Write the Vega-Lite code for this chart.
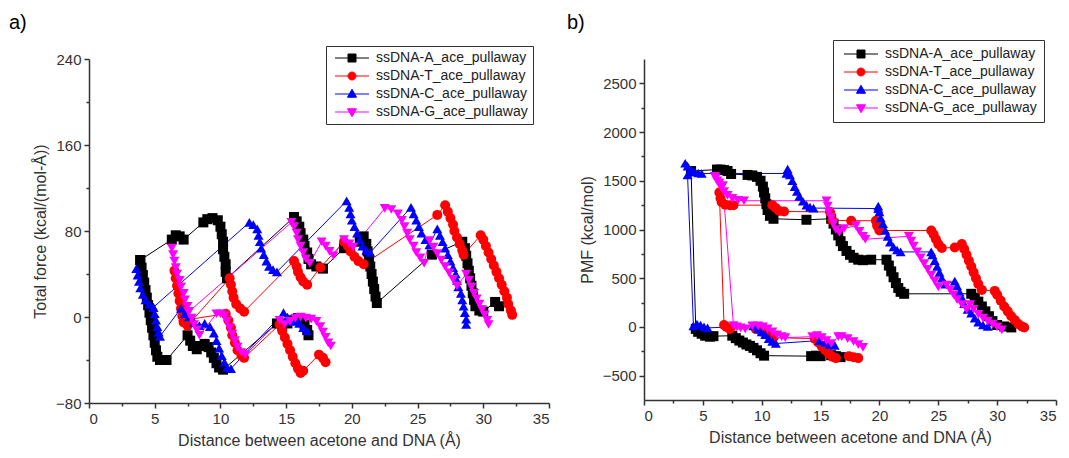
{
"$schema": "https://vega.github.io/schema/vega-lite/v6.json",
"padding": {"left": 9, "top": 12, "right": 2, "bottom": 2},
"background": "white",
"config": {
 "font": "Liberation Sans",
 "view": {"stroke": null},
 "axis": {"grid": false, "domainColor": "#333333", "domainWidth": 1.5, "tickColor": "#333333", "tickWidth": 1.5, "tickSize": 5, "labelFont": "Liberation Sans", "labelFontSize": 15, "labelColor": "#333333", "labelPadding": 3, "titleFont": "Liberation Sans", "titleFontSize": 16, "titleFontWeight": "normal", "titleColor": "#333333"},
 "legend": {"labelFont": "Liberation Sans", "labelFontSize": 14, "labelColor": "#222222", "strokeColor": "#333333", "fillColor": "white", "padding": 5, "symbolSize": 100, "symbolOffset": 14, "labelOffset": 17, "rowPadding": 4, "labelLimit": 300},
 "title": {"fontSize": 20, "fontWeight": "normal", "anchor": "start", "frame": "group", "color": "#000000", "font": "Liberation Sans"}
},
"datasets": {
 "force": [
  {"s":"A","r":1,"x":3.9,"y":53},{"s":"A","r":1,"x":6.3,"y":72},{"s":"A","r":1,"x":6.6,"y":76},{"s":"A","r":1,"x":6.9,"y":75},{"s":"A","r":1,"x":7.2,"y":72},{"s":"A","r":1,"x":8.7,"y":88},{"s":"A","r":1,"x":9.0,"y":91},{"s":"A","r":1,"x":9.4,"y":92},{"s":"A","r":1,"x":9.8,"y":90},{"s":"A","r":1,"x":10.0,"y":84},{"s":"A","r":1,"x":10.1,"y":77},{"s":"A","r":1,"x":10.2,"y":70},{"s":"A","r":1,"x":10.2,"y":63},{"s":"A","r":1,"x":10.3,"y":56},{"s":"A","r":1,"x":10.4,"y":49},{"s":"A","r":1,"x":10.4,"y":42},{"s":"A","r":1,"x":10.5,"y":36},{"s":"A","r":1,"x":15.6,"y":93},{"s":"A","r":1,"x":15.8,"y":89},{"s":"A","r":1,"x":16.0,"y":84},{"s":"A","r":1,"x":16.1,"y":78},{"s":"A","r":1,"x":16.3,"y":72},{"s":"A","r":1,"x":16.4,"y":66},{"s":"A","r":1,"x":16.6,"y":60},{"s":"A","r":1,"x":16.7,"y":54},{"s":"A","r":1,"x":16.9,"y":49},{"s":"A","r":1,"x":17.3,"y":47},{"s":"A","r":1,"x":17.8,"y":45},{"s":"A","r":1,"x":19.4,"y":64},{"s":"A","r":1,"x":20.6,"y":70},{"s":"A","r":1,"x":20.9,"y":75},{"s":"A","r":1,"x":21.1,"y":68},{"s":"A","r":1,"x":21.2,"y":61},{"s":"A","r":1,"x":21.3,"y":54},{"s":"A","r":1,"x":21.4,"y":47},{"s":"A","r":1,"x":21.5,"y":40},{"s":"A","r":1,"x":21.6,"y":33},{"s":"A","r":1,"x":21.7,"y":26},{"s":"A","r":1,"x":21.8,"y":19},{"s":"A","r":1,"x":21.9,"y":13},{"s":"A","r":1,"x":26.1,"y":58},{"s":"A","r":1,"x":28.4,"y":70},{"s":"A","r":1,"x":28.6,"y":64},{"s":"A","r":1,"x":28.7,"y":57},{"s":"A","r":1,"x":28.8,"y":50},{"s":"A","r":1,"x":28.9,"y":43},{"s":"A","r":1,"x":29.0,"y":36},{"s":"A","r":1,"x":29.1,"y":29},{"s":"A","r":1,"x":29.2,"y":22},{"s":"A","r":1,"x":29.3,"y":16},{"s":"A","r":1,"x":29.4,"y":10},{"s":"A","r":1,"x":29.7,"y":6},{"s":"A","r":1,"x":30.0,"y":5},{"s":"A","r":1,"x":30.9,"y":14},{"s":"A","r":1,"x":31.2,"y":10},
  {"s":"A","r":2,"x":3.9,"y":53},{"s":"A","r":2,"x":4.0,"y":46},{"s":"A","r":2,"x":4.1,"y":39},{"s":"A","r":2,"x":4.2,"y":32},{"s":"A","r":2,"x":4.3,"y":25},{"s":"A","r":2,"x":4.4,"y":18},{"s":"A","r":2,"x":4.5,"y":11},{"s":"A","r":2,"x":4.6,"y":4},{"s":"A","r":2,"x":4.7,"y":-3},{"s":"A","r":2,"x":4.8,"y":-10},{"s":"A","r":2,"x":4.9,"y":-17},{"s":"A","r":2,"x":5.0,"y":-24},{"s":"A","r":2,"x":5.1,"y":-31},{"s":"A","r":2,"x":5.2,"y":-37},{"s":"A","r":2,"x":5.4,"y":-40},{"s":"A","r":2,"x":5.7,"y":-40},{"s":"A","r":2,"x":5.9,"y":-40},{"s":"A","r":2,"x":7.5,"y":-17},{"s":"A","r":2,"x":7.7,"y":-22},{"s":"A","r":2,"x":7.9,"y":-27},{"s":"A","r":2,"x":8.2,"y":-30},{"s":"A","r":2,"x":8.5,"y":-27},{"s":"A","r":2,"x":8.8,"y":-25},{"s":"A","r":2,"x":9.1,"y":-28},{"s":"A","r":2,"x":9.3,"y":-33},{"s":"A","r":2,"x":9.5,"y":-38},{"s":"A","r":2,"x":9.7,"y":-43},{"s":"A","r":2,"x":9.9,"y":-47},{"s":"A","r":2,"x":10.2,"y":-49},{"s":"A","r":2,"x":14.3,"y":-6},{"s":"A","r":2,"x":14.7,"y":-8},{"s":"A","r":2,"x":15.1,"y":-6},{"s":"A","r":2,"x":15.5,"y":-3},{"s":"A","r":2,"x":15.9,"y":-1},{"s":"A","r":2,"x":16.2,"y":-2},{"s":"A","r":2,"x":16.4,"y":-7},{"s":"A","r":2,"x":16.6,"y":-12},{"s":"A","r":2,"x":16.7,"y":-17},
  {"s":"T","r":1,"x":6.5,"y":43},{"s":"T","r":1,"x":6.6,"y":36},{"s":"T","r":1,"x":6.7,"y":29},{"s":"T","r":1,"x":6.8,"y":22},{"s":"T","r":1,"x":6.9,"y":15},{"s":"T","r":1,"x":7.0,"y":8},{"s":"T","r":1,"x":7.1,"y":1},{"s":"T","r":1,"x":7.2,"y":-5},{"s":"T","r":1,"x":7.5,"y":-8},{"s":"T","r":1,"x":10.7,"y":36},{"s":"T","r":1,"x":10.8,"y":30},{"s":"T","r":1,"x":10.9,"y":24},{"s":"T","r":1,"x":11.0,"y":18},{"s":"T","r":1,"x":11.2,"y":12},{"s":"T","r":1,"x":11.5,"y":8},{"s":"T","r":1,"x":11.8,"y":5},{"s":"T","r":1,"x":15.6,"y":52},{"s":"T","r":1,"x":15.8,"y":47},{"s":"T","r":1,"x":15.9,"y":42},{"s":"T","r":1,"x":16.1,"y":37},{"s":"T","r":1,"x":16.3,"y":33},{"s":"T","r":1,"x":16.6,"y":30},{"s":"T","r":1,"x":17.6,"y":46},{"s":"T","r":1,"x":19.4,"y":70},{"s":"T","r":1,"x":19.7,"y":66},{"s":"T","r":1,"x":19.9,"y":61},{"s":"T","r":1,"x":20.2,"y":56},{"s":"T","r":1,"x":20.5,"y":52},{"s":"T","r":1,"x":20.9,"y":49},{"s":"T","r":1,"x":26.5,"y":95},{"s":"T","r":1,"x":27.1,"y":104},{"s":"T","r":1,"x":27.3,"y":98},{"s":"T","r":1,"x":27.5,"y":92},{"s":"T","r":1,"x":27.7,"y":86},{"s":"T","r":1,"x":27.8,"y":80},{"s":"T","r":1,"x":28.0,"y":74},{"s":"T","r":1,"x":28.2,"y":68},{"s":"T","r":1,"x":28.4,"y":62},{"s":"T","r":1,"x":28.5,"y":58},{"s":"T","r":1,"x":29.8,"y":76},{"s":"T","r":1,"x":30.0,"y":72},{"s":"T","r":1,"x":30.2,"y":66},{"s":"T","r":1,"x":30.4,"y":60},{"s":"T","r":1,"x":30.6,"y":54},{"s":"T","r":1,"x":30.8,"y":48},{"s":"T","r":1,"x":31.0,"y":42},{"s":"T","r":1,"x":31.2,"y":36},{"s":"T","r":1,"x":31.4,"y":30},{"s":"T","r":1,"x":31.6,"y":24},{"s":"T","r":1,"x":31.8,"y":18},{"s":"T","r":1,"x":31.9,"y":12},{"s":"T","r":1,"x":32.1,"y":6},{"s":"T","r":1,"x":32.2,"y":2},
  {"s":"T","r":2,"x":7.2,"y":-3},{"s":"T","r":2,"x":10.4,"y":3},{"s":"T","r":2,"x":10.6,"y":-3},{"s":"T","r":2,"x":10.8,"y":-10},{"s":"T","r":2,"x":10.9,"y":-17},{"s":"T","r":2,"x":11.1,"y":-24},{"s":"T","r":2,"x":11.3,"y":-31},{"s":"T","r":2,"x":11.6,"y":-36},{"s":"T","r":2,"x":11.8,"y":-38},{"s":"T","r":2,"x":14.5,"y":-7},{"s":"T","r":2,"x":14.7,"y":-13},{"s":"T","r":2,"x":14.9,"y":-19},{"s":"T","r":2,"x":15.1,"y":-25},{"s":"T","r":2,"x":15.3,"y":-31},{"s":"T","r":2,"x":15.5,"y":-37},{"s":"T","r":2,"x":15.7,"y":-43},{"s":"T","r":2,"x":15.9,"y":-48},{"s":"T","r":2,"x":16.1,"y":-52},{"s":"T","r":2,"x":16.3,"y":-50},{"s":"T","r":2,"x":17.5,"y":-35},{"s":"T","r":2,"x":17.8,"y":-38},{"s":"T","r":2,"x":18.0,"y":-42},
  {"s":"C","r":1,"x":3.6,"y":45},{"s":"C","r":1,"x":3.7,"y":39},{"s":"C","r":1,"x":3.8,"y":33},{"s":"C","r":1,"x":3.9,"y":27},{"s":"C","r":1,"x":4.1,"y":21},{"s":"C","r":1,"x":4.3,"y":16},{"s":"C","r":1,"x":4.6,"y":12},{"s":"C","r":1,"x":4.9,"y":9},{"s":"C","r":1,"x":12.2,"y":88},{"s":"C","r":1,"x":12.5,"y":86},{"s":"C","r":1,"x":12.8,"y":82},{"s":"C","r":1,"x":12.9,"y":76},{"s":"C","r":1,"x":13.0,"y":70},{"s":"C","r":1,"x":13.1,"y":64},{"s":"C","r":1,"x":13.3,"y":58},{"s":"C","r":1,"x":13.5,"y":52},{"s":"C","r":1,"x":13.7,"y":47},{"s":"C","r":1,"x":14.0,"y":44},{"s":"C","r":1,"x":14.3,"y":42},{"s":"C","r":1,"x":19.6,"y":108},{"s":"C","r":1,"x":19.8,"y":102},{"s":"C","r":1,"x":19.9,"y":96},{"s":"C","r":1,"x":20.0,"y":90},{"s":"C","r":1,"x":20.2,"y":84},{"s":"C","r":1,"x":20.4,"y":78},{"s":"C","r":1,"x":20.6,"y":72},{"s":"C","r":1,"x":20.8,"y":66},{"s":"C","r":1,"x":21.1,"y":62},{"s":"C","r":1,"x":21.4,"y":60},{"s":"C","r":1,"x":24.5,"y":102},{"s":"C","r":1,"x":24.7,"y":96},{"s":"C","r":1,"x":24.9,"y":90},{"s":"C","r":1,"x":25.1,"y":84},{"s":"C","r":1,"x":25.3,"y":78},{"s":"C","r":1,"x":25.6,"y":72},{"s":"C","r":1,"x":25.9,"y":67},{"s":"C","r":1,"x":26.5,"y":82},{"s":"C","r":1,"x":26.7,"y":76},{"s":"C","r":1,"x":26.9,"y":70},{"s":"C","r":1,"x":27.1,"y":64},{"s":"C","r":1,"x":27.3,"y":58},{"s":"C","r":1,"x":27.5,"y":52},{"s":"C","r":1,"x":27.7,"y":46},{"s":"C","r":1,"x":27.9,"y":40},{"s":"C","r":1,"x":28.0,"y":34},{"s":"C","r":1,"x":28.1,"y":28},{"s":"C","r":1,"x":28.3,"y":22},{"s":"C","r":1,"x":28.4,"y":16},{"s":"C","r":1,"x":28.5,"y":10},{"s":"C","r":1,"x":28.6,"y":4},{"s":"C","r":1,"x":28.7,"y":-2},{"s":"C","r":1,"x":28.7,"y":-7},
  {"s":"C","r":2,"x":4.9,"y":9},{"s":"C","r":2,"x":5.0,"y":3},{"s":"C","r":2,"x":5.1,"y":-3},{"s":"C","r":2,"x":5.2,"y":-9},{"s":"C","r":2,"x":5.3,"y":-14},{"s":"C","r":2,"x":5.4,"y":-18},{"s":"C","r":2,"x":7.0,"y":8},{"s":"C","r":2,"x":7.3,"y":3},{"s":"C","r":2,"x":7.6,"y":0},{"s":"C","r":2,"x":8.0,"y":-5},{"s":"C","r":2,"x":8.4,"y":-8},{"s":"C","r":2,"x":8.8,"y":-6},{"s":"C","r":2,"x":9.2,"y":-9},{"s":"C","r":2,"x":9.5,"y":-15},{"s":"C","r":2,"x":9.7,"y":-22},{"s":"C","r":2,"x":9.9,"y":-29},{"s":"C","r":2,"x":10.1,"y":-36},{"s":"C","r":2,"x":10.3,"y":-42},{"s":"C","r":2,"x":10.5,"y":-47},{"s":"C","r":2,"x":10.8,"y":-48},{"s":"C","r":2,"x":14.8,"y":4},{"s":"C","r":2,"x":15.1,"y":0},{"s":"C","r":2,"x":15.4,"y":-4},{"s":"C","r":2,"x":15.7,"y":-2},{"s":"C","r":2,"x":16.0,"y":-6},{"s":"C","r":2,"x":16.3,"y":-10},{"s":"C","r":2,"x":16.6,"y":-13},
  {"s":"G","r":1,"x":6.3,"y":64},{"s":"G","r":1,"x":6.4,"y":58},{"s":"G","r":1,"x":6.5,"y":52},{"s":"G","r":1,"x":6.6,"y":46},{"s":"G","r":1,"x":6.7,"y":40},{"s":"G","r":1,"x":6.9,"y":34},{"s":"G","r":1,"x":7.0,"y":28},{"s":"G","r":1,"x":7.2,"y":22},{"s":"G","r":1,"x":7.3,"y":16},{"s":"G","r":1,"x":7.5,"y":10},{"s":"G","r":1,"x":7.6,"y":5},{"s":"G","r":1,"x":15.4,"y":88},{"s":"G","r":1,"x":15.6,"y":84},{"s":"G","r":1,"x":15.8,"y":78},{"s":"G","r":1,"x":15.9,"y":72},{"s":"G","r":1,"x":16.1,"y":66},{"s":"G","r":1,"x":16.3,"y":60},{"s":"G","r":1,"x":16.5,"y":54},{"s":"G","r":1,"x":16.8,"y":50},{"s":"G","r":1,"x":17.7,"y":70},{"s":"G","r":1,"x":18.0,"y":66},{"s":"G","r":1,"x":18.3,"y":61},{"s":"G","r":1,"x":18.6,"y":57},{"s":"G","r":1,"x":19.4,"y":72},{"s":"G","r":1,"x":19.8,"y":68},{"s":"G","r":1,"x":20.1,"y":65},{"s":"G","r":1,"x":22.5,"y":101},{"s":"G","r":1,"x":23.0,"y":100},{"s":"G","r":1,"x":23.5,"y":96},{"s":"G","r":1,"x":23.8,"y":90},{"s":"G","r":1,"x":24.0,"y":84},{"s":"G","r":1,"x":24.2,"y":78},{"s":"G","r":1,"x":24.4,"y":72},{"s":"G","r":1,"x":24.7,"y":66},{"s":"G","r":1,"x":24.9,"y":60},{"s":"G","r":1,"x":25.2,"y":55},{"s":"G","r":1,"x":25.5,"y":50},{"s":"G","r":1,"x":25.9,"y":71},{"s":"G","r":1,"x":26.2,"y":65},{"s":"G","r":1,"x":26.5,"y":59},{"s":"G","r":1,"x":26.8,"y":53},{"s":"G","r":1,"x":27.1,"y":47},{"s":"G","r":1,"x":27.4,"y":41},{"s":"G","r":1,"x":27.7,"y":35},{"s":"G","r":1,"x":28.0,"y":29},{"s":"G","r":1,"x":28.7,"y":40},{"s":"G","r":1,"x":28.9,"y":34},{"s":"G","r":1,"x":29.1,"y":28},{"s":"G","r":1,"x":29.3,"y":22},{"s":"G","r":1,"x":29.5,"y":17},{"s":"G","r":1,"x":29.7,"y":12},{"s":"G","r":1,"x":29.9,"y":7},{"s":"G","r":1,"x":30.1,"y":2},{"s":"G","r":1,"x":30.3,"y":-3},{"s":"G","r":1,"x":30.4,"y":-7},
  {"s":"G","r":2,"x":7.6,"y":5},{"s":"G","r":2,"x":7.8,"y":-1},{"s":"G","r":2,"x":8.0,"y":-7},{"s":"G","r":2,"x":8.2,"y":-12},{"s":"G","r":2,"x":8.4,"y":-17},{"s":"G","r":2,"x":9.7,"y":3},{"s":"G","r":2,"x":10.0,"y":3},{"s":"G","r":2,"x":10.3,"y":1},{"s":"G","r":2,"x":10.5,"y":-4},{"s":"G","r":2,"x":10.7,"y":-10},{"s":"G","r":2,"x":10.9,"y":-16},{"s":"G","r":2,"x":11.1,"y":-22},{"s":"G","r":2,"x":11.3,"y":-28},{"s":"G","r":2,"x":11.6,"y":-33},{"s":"G","r":2,"x":11.9,"y":-35},{"s":"G","r":2,"x":14.5,"y":-3},{"s":"G","r":2,"x":14.9,"y":-7},{"s":"G","r":2,"x":15.3,"y":-4},{"s":"G","r":2,"x":15.7,"y":-1},{"s":"G","r":2,"x":16.1,"y":0},{"s":"G","r":2,"x":16.5,"y":-1},{"s":"G","r":2,"x":16.9,"y":-2},{"s":"G","r":2,"x":17.3,"y":-4},{"s":"G","r":2,"x":17.6,"y":-9},{"s":"G","r":2,"x":17.8,"y":-14},{"s":"G","r":2,"x":18.0,"y":-19},{"s":"G","r":2,"x":18.2,"y":-24},{"s":"G","r":2,"x":18.4,"y":-27}
 ],
 "pmf": [
  {"s":"A","r":1,"x":16.7,"y":-310},{"s":"A","r":1,"x":16.3,"y":-300},{"s":"A","r":1,"x":15.9,"y":-290},{"s":"A","r":1,"x":15.0,"y":-300},{"s":"A","r":1,"x":14.6,"y":-295},{"s":"A","r":1,"x":14.2,"y":-300},{"s":"A","r":1,"x":10.2,"y":-295},{"s":"A","r":1,"x":9.9,"y":-270},{"s":"A","r":1,"x":9.6,"y":-240},{"s":"A","r":1,"x":9.3,"y":-215},{"s":"A","r":1,"x":9.0,"y":-195},{"s":"A","r":1,"x":8.7,"y":-180},{"s":"A","r":1,"x":8.4,"y":-160},{"s":"A","r":1,"x":8.1,"y":-140},{"s":"A","r":1,"x":7.8,"y":-115},{"s":"A","r":1,"x":7.5,"y":-90},{"s":"A","r":1,"x":5.9,"y":-95},{"s":"A","r":1,"x":5.6,"y":-100},{"s":"A","r":1,"x":5.2,"y":-90},{"s":"A","r":1,"x":4.9,"y":-70},{"s":"A","r":1,"x":4.6,"y":-50},{"s":"A","r":1,"x":4.4,"y":-20},{"s":"A","r":1,"x":4.0,"y":1600},{"s":"A","r":1,"x":6.2,"y":1615},{"s":"A","r":1,"x":6.5,"y":1615},{"s":"A","r":1,"x":6.8,"y":1610},{"s":"A","r":1,"x":7.1,"y":1600},{"s":"A","r":1,"x":7.4,"y":1570},{"s":"A","r":1,"x":8.8,"y":1560},{"s":"A","r":1,"x":9.2,"y":1555},{"s":"A","r":1,"x":9.6,"y":1540},{"s":"A","r":1,"x":9.9,"y":1500},{"s":"A","r":1,"x":10.1,"y":1440},{"s":"A","r":1,"x":10.2,"y":1380},{"s":"A","r":1,"x":10.3,"y":1320},{"s":"A","r":1,"x":10.4,"y":1260},{"s":"A","r":1,"x":10.5,"y":1200},{"s":"A","r":1,"x":10.7,"y":1140},{"s":"A","r":1,"x":11.0,"y":1110},{"s":"A","r":1,"x":13.8,"y":1100},{"s":"A","r":1,"x":15.9,"y":1110},{"s":"A","r":1,"x":16.1,"y":1060},{"s":"A","r":1,"x":16.3,"y":1000},{"s":"A","r":1,"x":16.5,"y":940},{"s":"A","r":1,"x":16.7,"y":880},{"s":"A","r":1,"x":16.9,"y":830},{"s":"A","r":1,"x":17.2,"y":780},{"s":"A","r":1,"x":17.5,"y":740},{"s":"A","r":1,"x":17.8,"y":710},{"s":"A","r":1,"x":18.2,"y":690},{"s":"A","r":1,"x":18.6,"y":685},{"s":"A","r":1,"x":19.3,"y":690},{"s":"A","r":1,"x":20.6,"y":690},{"s":"A","r":1,"x":20.8,"y":630},{"s":"A","r":1,"x":21.0,"y":570},{"s":"A","r":1,"x":21.2,"y":510},{"s":"A","r":1,"x":21.4,"y":450},{"s":"A","r":1,"x":21.6,"y":400},{"s":"A","r":1,"x":21.8,"y":360},{"s":"A","r":1,"x":22.1,"y":340},{"s":"A","r":1,"x":27.8,"y":340},{"s":"A","r":1,"x":28.1,"y":300},{"s":"A","r":1,"x":28.4,"y":260},{"s":"A","r":1,"x":28.7,"y":210},{"s":"A","r":1,"x":29.0,"y":160},{"s":"A","r":1,"x":29.3,"y":110},{"s":"A","r":1,"x":29.6,"y":60},{"s":"A","r":1,"x":30.0,"y":20},{"s":"A","r":1,"x":30.6,"y":5},{"s":"A","r":1,"x":31.2,"y":-5},
  {"s":"T","r":1,"x":18.2,"y":-320},{"s":"T","r":1,"x":17.8,"y":-310},{"s":"T","r":1,"x":17.4,"y":-300},{"s":"T","r":1,"x":16.3,"y":-320},{"s":"T","r":1,"x":16.0,"y":-305},{"s":"T","r":1,"x":15.7,"y":-275},{"s":"T","r":1,"x":15.4,"y":-240},{"s":"T","r":1,"x":15.1,"y":-200},{"s":"T","r":1,"x":14.8,"y":-160},{"s":"T","r":1,"x":14.5,"y":-120},{"s":"T","r":1,"x":11.0,"y":-110},{"s":"T","r":1,"x":10.5,"y":-80},{"s":"T","r":1,"x":10.0,"y":-50},{"s":"T","r":1,"x":9.5,"y":-20},{"s":"T","r":1,"x":7.3,"y":-20},{"s":"T","r":1,"x":7.0,"y":0},{"s":"T","r":1,"x":6.8,"y":20},{"s":"T","r":1,"x":6.4,"y":1380},{"s":"T","r":1,"x":6.5,"y":1320},{"s":"T","r":1,"x":6.6,"y":1280},{"s":"T","r":1,"x":6.9,"y":1255},{"s":"T","r":1,"x":7.3,"y":1250},{"s":"T","r":1,"x":7.6,"y":1250},{"s":"T","r":1,"x":10.9,"y":1250},{"s":"T","r":1,"x":11.2,"y":1220},{"s":"T","r":1,"x":11.5,"y":1190},{"s":"T","r":1,"x":11.9,"y":1185},{"s":"T","r":1,"x":15.8,"y":1180},{"s":"T","r":1,"x":16.0,"y":1095},{"s":"T","r":1,"x":17.6,"y":1090},{"s":"T","r":1,"x":19.7,"y":1090},{"s":"T","r":1,"x":19.8,"y":1040},{"s":"T","r":1,"x":20.0,"y":990},{"s":"T","r":1,"x":24.4,"y":990},{"s":"T","r":1,"x":24.6,"y":950},{"s":"T","r":1,"x":24.8,"y":900},{"s":"T","r":1,"x":25.0,"y":850},{"s":"T","r":1,"x":25.3,"y":810},{"s":"T","r":1,"x":26.4,"y":815},{"s":"T","r":1,"x":27.0,"y":850},{"s":"T","r":1,"x":27.2,"y":800},{"s":"T","r":1,"x":27.4,"y":740},{"s":"T","r":1,"x":27.6,"y":680},{"s":"T","r":1,"x":27.8,"y":620},{"s":"T","r":1,"x":28.0,"y":560},{"s":"T","r":1,"x":28.2,"y":500},{"s":"T","r":1,"x":28.4,"y":440},{"s":"T","r":1,"x":28.7,"y":380},{"s":"T","r":1,"x":29.8,"y":370},{"s":"T","r":1,"x":30.0,"y":330},{"s":"T","r":1,"x":30.3,"y":270},{"s":"T","r":1,"x":30.6,"y":210},{"s":"T","r":1,"x":30.9,"y":160},{"s":"T","r":1,"x":31.2,"y":110},{"s":"T","r":1,"x":31.5,"y":70},{"s":"T","r":1,"x":31.8,"y":30},{"s":"T","r":1,"x":32.1,"y":5},{"s":"T","r":1,"x":32.3,"y":-5},
  {"s":"C","r":1,"x":16.2,"y":-190},{"s":"C","r":1,"x":15.8,"y":-180},{"s":"C","r":1,"x":15.4,"y":-160},{"s":"C","r":1,"x":14.9,"y":-140},{"s":"C","r":1,"x":11.2,"y":-170},{"s":"C","r":1,"x":10.9,"y":-150},{"s":"C","r":1,"x":10.6,"y":-120},{"s":"C","r":1,"x":10.3,"y":-80},{"s":"C","r":1,"x":10.0,"y":-50},{"s":"C","r":1,"x":9.7,"y":-20},{"s":"C","r":1,"x":9.3,"y":10},{"s":"C","r":1,"x":5.4,"y":-10},{"s":"C","r":1,"x":5.1,"y":0},{"s":"C","r":1,"x":4.8,"y":20},{"s":"C","r":1,"x":4.5,"y":30},{"s":"C","r":1,"x":4.2,"y":10},{"s":"C","r":1,"x":3.7,"y":1560},{"s":"C","r":1,"x":3.5,"y":1680},{"s":"C","r":1,"x":3.7,"y":1650},{"s":"C","r":1,"x":4.0,"y":1610},{"s":"C","r":1,"x":4.3,"y":1590},{"s":"C","r":1,"x":4.6,"y":1580},{"s":"C","r":1,"x":4.9,"y":1575},{"s":"C","r":1,"x":12.1,"y":1575},{"s":"C","r":1,"x":12.2,"y":1620},{"s":"C","r":1,"x":12.4,"y":1560},{"s":"C","r":1,"x":12.6,"y":1500},{"s":"C","r":1,"x":12.8,"y":1440},{"s":"C","r":1,"x":13.0,"y":1390},{"s":"C","r":1,"x":13.2,"y":1340},{"s":"C","r":1,"x":13.5,"y":1290},{"s":"C","r":1,"x":13.8,"y":1250},{"s":"C","r":1,"x":14.1,"y":1230},{"s":"C","r":1,"x":14.4,"y":1220},{"s":"C","r":1,"x":19.9,"y":1215},{"s":"C","r":1,"x":19.9,"y":1240},{"s":"C","r":1,"x":20.0,"y":1180},{"s":"C","r":1,"x":20.1,"y":1120},{"s":"C","r":1,"x":20.3,"y":1060},{"s":"C","r":1,"x":20.5,"y":990},{"s":"C","r":1,"x":20.7,"y":930},{"s":"C","r":1,"x":20.9,"y":870},{"s":"C","r":1,"x":21.2,"y":820},{"s":"C","r":1,"x":21.5,"y":790},{"s":"C","r":1,"x":21.8,"y":770},{"s":"C","r":1,"x":24.4,"y":770},{"s":"C","r":1,"x":24.5,"y":740},{"s":"C","r":1,"x":24.7,"y":680},{"s":"C","r":1,"x":24.9,"y":620},{"s":"C","r":1,"x":25.1,"y":560},{"s":"C","r":1,"x":25.3,"y":500},{"s":"C","r":1,"x":25.6,"y":440},{"s":"C","r":1,"x":26.4,"y":470},{"s":"C","r":1,"x":26.6,"y":420},{"s":"C","r":1,"x":26.8,"y":360},{"s":"C","r":1,"x":27.0,"y":300},{"s":"C","r":1,"x":27.2,"y":240},{"s":"C","r":1,"x":27.5,"y":180},{"s":"C","r":1,"x":27.8,"y":140},{"s":"C","r":1,"x":28.1,"y":90},{"s":"C","r":1,"x":28.4,"y":50},{"s":"C","r":1,"x":28.8,"y":20},{"s":"C","r":1,"x":29.2,"y":5},
  {"s":"G","r":1,"x":18.6,"y":-210},{"s":"G","r":1,"x":18.2,"y":-180},{"s":"G","r":1,"x":17.8,"y":-150},{"s":"G","r":1,"x":17.3,"y":-120},{"s":"G","r":1,"x":16.8,"y":-100},{"s":"G","r":1,"x":16.5,"y":-100},{"s":"G","r":1,"x":15.9,"y":-170},{"s":"G","r":1,"x":15.5,"y":-140},{"s":"G","r":1,"x":15.1,"y":-110},{"s":"G","r":1,"x":14.7,"y":-90},{"s":"G","r":1,"x":14.3,"y":-100},{"s":"G","r":1,"x":12.0,"y":-110},{"s":"G","r":1,"x":11.7,"y":-100},{"s":"G","r":1,"x":11.3,"y":-80},{"s":"G","r":1,"x":10.9,"y":-50},{"s":"G","r":1,"x":10.5,"y":-20},{"s":"G","r":1,"x":10.1,"y":0},{"s":"G","r":1,"x":9.7,"y":10},{"s":"G","r":1,"x":9.2,"y":10},{"s":"G","r":1,"x":8.6,"y":-20},{"s":"G","r":1,"x":8.2,"y":-10},{"s":"G","r":1,"x":7.9,"y":0},{"s":"G","r":1,"x":7.6,"y":15},{"s":"G","r":1,"x":6.7,"y":1450},{"s":"G","r":1,"x":6.4,"y":1480},{"s":"G","r":1,"x":6.1,"y":1530},{"s":"G","r":1,"x":6.0,"y":1545},{"s":"G","r":1,"x":6.2,"y":1500},{"s":"G","r":1,"x":6.5,"y":1440},{"s":"G","r":1,"x":6.8,"y":1390},{"s":"G","r":1,"x":7.1,"y":1350},{"s":"G","r":1,"x":7.5,"y":1320},{"s":"G","r":1,"x":8.0,"y":1300},{"s":"G","r":1,"x":8.5,"y":1295},{"s":"G","r":1,"x":15.5,"y":1295},{"s":"G","r":1,"x":15.6,"y":1240},{"s":"G","r":1,"x":15.7,"y":1180},{"s":"G","r":1,"x":15.9,"y":1120},{"s":"G","r":1,"x":16.1,"y":1060},{"s":"G","r":1,"x":16.3,"y":1000},{"s":"G","r":1,"x":16.6,"y":970},{"s":"G","r":1,"x":17.0,"y":1010},{"s":"G","r":1,"x":18.0,"y":1040},{"s":"G","r":1,"x":18.3,"y":980},{"s":"G","r":1,"x":18.6,"y":930},{"s":"G","r":1,"x":18.8,"y":900},{"s":"G","r":1,"x":22.5,"y":930},{"s":"G","r":1,"x":22.7,"y":880},{"s":"G","r":1,"x":22.9,"y":830},{"s":"G","r":1,"x":23.2,"y":770},{"s":"G","r":1,"x":23.5,"y":710},{"s":"G","r":1,"x":23.8,"y":650},{"s":"G","r":1,"x":24.1,"y":590},{"s":"G","r":1,"x":24.4,"y":530},{"s":"G","r":1,"x":24.7,"y":470},{"s":"G","r":1,"x":25.0,"y":410},{"s":"G","r":1,"x":25.7,"y":430},{"s":"G","r":1,"x":26.0,"y":380},{"s":"G","r":1,"x":26.3,"y":330},{"s":"G","r":1,"x":26.6,"y":280},{"s":"G","r":1,"x":27.0,"y":230},{"s":"G","r":1,"x":27.4,"y":180},{"s":"G","r":1,"x":27.7,"y":230},{"s":"G","r":1,"x":28.0,"y":180},{"s":"G","r":1,"x":28.4,"y":130},{"s":"G","r":1,"x":28.8,"y":90},{"s":"G","r":1,"x":29.2,"y":60},{"s":"G","r":1,"x":29.6,"y":30},{"s":"G","r":1,"x":30.0,"y":0},{"s":"G","r":1,"x":30.4,"y":-30}
 ]
},
"hconcat": [
 {
  "title": {"text": "a)", "dx": -80, "offset": 13},
  "width": 460, "height": 344,
  "data": {"name": "force"},
  "encoding": {
   "x": {"field": "x", "type": "quantitative", "scale": {"domain": [0, 35], "nice": false}, "axis": null},
   "y": {"field": "y", "type": "quantitative", "scale": {"domain": [-80, 240], "nice": false}, "axis": null},
   "color": {"field": "s", "type": "nominal", "scale": {"domain": ["A", "T", "C", "G"], "range": ["#000000", "#ff0000", "#0000ff", "#ff00ff"]}}
  },
  "layer": [
   {"mark": {"type": "line", "strokeWidth": 1},
    "encoding": {
     "x": {"field": "x", "type": "quantitative", "scale": {"domain": [0, 35], "nice": false}, "axis": {"orient": "bottom", "values": [2.5, 7.5, 12.5, 17.5, 22.5, 27.5, 32.5], "labels": false, "domain": false, "tickSize": 3, "title": null}},
     "y": {"field": "y", "type": "quantitative", "scale": {"domain": [-80, 240], "nice": false}, "axis": {"orient": "left", "values": [-40, 40, 120, 200], "labels": false, "domain": false, "tickSize": 3, "title": null}},
     "color": {"field": "s", "type": "nominal", "scale": {"domain": ["A", "T", "C", "G"], "range": ["#000000", "#ff0000", "#0000ff", "#ff00ff"]},
      "legend": {"title": null, "orient": "none", "legendX": 237, "legendY": -13, "labelExpr": "'ssDNA-' + datum.label + '_ace_pullaway'",
       "encode": {"symbols": {"update": {
        "shape": {"signal": "datum.value==='A'?'M-3.4,0H3.4M-0.8,-0.8H0.8V0.8H-0.8Z':datum.value==='T'?'M-3.4,0H3.4M-0.8,0A0.8,0.8,0,1,1,0.8,0A0.8,0.8,0,1,1,-0.8,0Z':datum.value==='C'?'M-3.4,0H3.4M0,-0.95L0.9,0.65H-0.9Z':'M-3.4,0H3.4M0,0.95L0.9,-0.65H-0.9Z'"},
        "stroke": {"signal": "datum.value==='A'?'#000000':datum.value==='T'?'#ff0000':datum.value==='C'?'#0000ff':'#ff00ff'"},
        "fill": {"signal": "datum.value==='A'?'#000000':datum.value==='T'?'#ff0000':datum.value==='C'?'#0000ff':'#ff00ff'"},
        "strokeWidth": {"value": 1},
        "opacity": {"value": 1}
       }}}}},
     "detail": {"field": "r", "type": "nominal"},
     "order": {"value": null}
    }},
   {"transform": [{"filter": "datum.s === 'A'"}],
    "mark": {"type": "point", "filled": true, "opacity": 1, "size": 100, "shape": "square"},
    "encoding": {
     "x": {"field": "x", "type": "quantitative", "scale": {"domain": [0, 35], "nice": false}, "axis": {"orient": "bottom", "values": [0, 5, 10, 15, 20, 25, 30, 35], "title": "Distance between acetone and DNA (Å)", "titlePadding": 6}},
     "y": {"field": "y", "type": "quantitative", "scale": {"domain": [-80, 240], "nice": false}, "axis": {"orient": "left", "values": [-80, 0, 80, 160, 240], "title": "Total force (kcal/(mol-Å))", "titlePadding": 7}}
    }},
   {"transform": [{"filter": "datum.s === 'T'"}],
    "mark": {"type": "point", "filled": true, "opacity": 1, "size": 100, "shape": "circle"}},
   {"transform": [{"filter": "datum.s === 'C'"}],
    "mark": {"type": "point", "filled": true, "opacity": 1, "size": 100, "shape": "triangle-up"}},
   {"transform": [{"filter": "datum.s === 'G'"}],
    "mark": {"type": "point", "filled": true, "opacity": 1, "size": 100, "shape": "triangle-down"}}
  ],
  "resolve": {"axis": {"x": "independent", "y": "independent"}}
 },
 {
  "title": {"text": "b)", "dx": -77, "offset": 7},
  "width": 412, "height": 341,
  "data": {"name": "pmf"},
  "encoding": {
   "x": {"field": "x", "type": "quantitative", "scale": {"domain": [0, 35], "nice": false}, "axis": null},
   "y": {"field": "y", "type": "quantitative", "scale": {"domain": [-750, 2750], "nice": false}, "axis": null},
   "color": {"field": "s", "type": "nominal", "scale": {"domain": ["A", "T", "C", "G"], "range": ["#000000", "#ff0000", "#0000ff", "#ff00ff"]}}
  },
  "layer": [
   {"mark": {"type": "line", "strokeWidth": 1},
    "encoding": {
     "x": {"field": "x", "type": "quantitative", "scale": {"domain": [0, 35], "nice": false}, "axis": {"orient": "bottom", "values": [2.5, 7.5, 12.5, 17.5, 22.5, 27.5, 32.5], "labels": false, "domain": false, "tickSize": 3, "title": null}},
     "y": {"field": "y", "type": "quantitative", "scale": {"domain": [-750, 2750], "nice": false}, "axis": {"orient": "left", "values": [-250, 250, 750, 1250, 1750, 2250], "labels": false, "domain": false, "tickSize": 3, "title": null}},
     "color": {"field": "s", "type": "nominal", "scale": {"domain": ["A", "T", "C", "G"], "range": ["#000000", "#ff0000", "#0000ff", "#ff00ff"]},
      "legend": {"title": null, "orient": "none", "legendX": 189, "legendY": -19, "padding": 7, "labelExpr": "'ssDNA-' + datum.label + '_ace_pullaway'",
       "encode": {"symbols": {"update": {
        "shape": {"signal": "datum.value==='A'?'M-3.4,0H3.4M-0.8,-0.8H0.8V0.8H-0.8Z':datum.value==='T'?'M-3.4,0H3.4M-0.8,0A0.8,0.8,0,1,1,0.8,0A0.8,0.8,0,1,1,-0.8,0Z':datum.value==='C'?'M-3.4,0H3.4M0,-0.95L0.9,0.65H-0.9Z':'M-3.4,0H3.4M0,0.95L0.9,-0.65H-0.9Z'"},
        "stroke": {"signal": "datum.value==='A'?'#000000':datum.value==='T'?'#ff0000':datum.value==='C'?'#0000ff':'#ff00ff'"},
        "fill": {"signal": "datum.value==='A'?'#000000':datum.value==='T'?'#ff0000':datum.value==='C'?'#0000ff':'#ff00ff'"},
        "strokeWidth": {"value": 1},
        "opacity": {"value": 1}
       }}}}},
     "detail": {"field": "r", "type": "nominal"},
     "order": {"value": null}
    }},
   {"transform": [{"filter": "datum.s === 'A'"}],
    "mark": {"type": "point", "filled": true, "opacity": 1, "size": 100, "shape": "square"},
    "encoding": {
     "x": {"field": "x", "type": "quantitative", "scale": {"domain": [0, 35], "nice": false}, "axis": {"orient": "bottom", "values": [0, 5, 10, 15, 20, 25, 30, 35], "title": "Distance between acetone and DNA (Å)", "titlePadding": 6}},
     "y": {"field": "y", "type": "quantitative", "scale": {"domain": [-750, 2750], "nice": false}, "axis": {"orient": "left", "values": [-500, 0, 500, 1000, 1500, 2000, 2500], "format": "d", "title": "PMF (kcal/mol)", "titlePadding": 7}}
    }},
   {"transform": [{"filter": "datum.s === 'T'"}],
    "mark": {"type": "point", "filled": true, "opacity": 1, "size": 100, "shape": "circle"}},
   {"transform": [{"filter": "datum.s === 'C'"}],
    "mark": {"type": "point", "filled": true, "opacity": 1, "size": 100, "shape": "triangle-up"}},
   {"transform": [{"filter": "datum.s === 'G'"}],
    "mark": {"type": "point", "filled": true, "opacity": 1, "size": 100, "shape": "triangle-down"}}
  ],
  "resolve": {"axis": {"x": "independent", "y": "independent"}}
 }
],
"spacing": 95,
"bounds": "flush",
"resolve": {"scale": {"x": "independent", "y": "independent", "color": "independent"}, "legend": {"color": "independent"}}
}
